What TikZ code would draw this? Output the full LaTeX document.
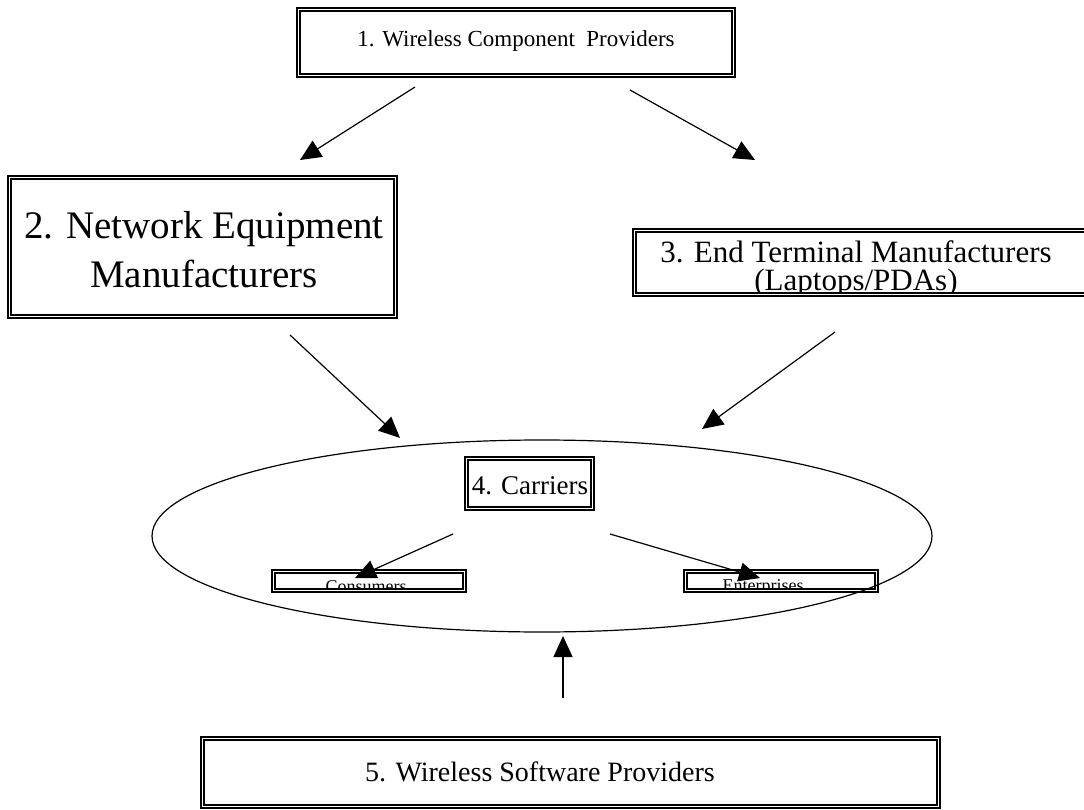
\documentclass[tikz,border=0pt]{standalone}
\usepackage{fontspec}
\setmainfont{Liberation Serif}
\usetikzlibrary{arrows.meta,calc,shapes.geometric}

\tikzset{
  frame/.style={draw, line width=2pt, inner sep=0pt},
  innerframe/.style={line width=1.2pt},
  link/.style={line width=1.2pt, -{Triangle[length=21pt,width=19pt]}},
  label/.style={inner sep=0pt, align=center},
}

% draws the thin inner rule of a double-ruled box
\newcommand\innerrule[1]{%
  \draw[innerframe] ($(#1.north west)+(4,4)$) rectangle ($(#1.south east)+(-4,-4)$);}

\begin{document}
\begin{tikzpicture}[x=1pt,y=-1pt]
\useasboundingbox (0,0) rectangle (1084,810);

% boxes
\node[frame, minimum width=438pt, minimum height=69pt] (wcp) at (516,42.5) {};
\node[frame, minimum width=389pt, minimum height=142pt] (nem) at (202.5,247) {};
\node[frame, minimum width=455pt, minimum height=67pt] (etm) at (860.5,262.5) {};
\node[draw, line width=1.2pt, ellipse, inner sep=0pt, minimum width=780pt, minimum height=192pt] (car) at (542,536) {};
\node[frame, minimum width=129pt, minimum height=53pt] (c4) at (529.5,483.5) {};
\node[frame, minimum width=194pt, minimum height=22pt] (con) at (369,581) {};
\node[frame, minimum width=194pt, minimum height=22pt] (ent) at (781,581) {};
\node[frame, minimum width=739pt, minimum height=71pt] (wsp) at (570.5,772.5) {};
\foreach \n in {wcp,nem,etm,c4,con,ent,wsp} {\innerrule{\n}}

% texts
\node[label, font=\fontsize{23}{27}\selectfont] (t1) at (516,41) {1. Wireless Component\ \ Providers};
\node[label, font=\fontsize{39}{49}\selectfont] (t2) at (204,250) {2. Network Equipment\\Manufacturers};
\begin{scope}
  \clip ($(etm.north west)+(4,4)$) rectangle ($(etm.south east)+(-4,-4)$);
  \node[label, font=\fontsize{31}{28}\selectfont, anchor=north] (t3) at (856,240) {3. End Terminal Manufacturers\\(Laptops/PDAs)};
\end{scope}
\node[label, font=\fontsize{27}{30}\selectfont] (t4) at (530,486) {4. Carriers};
\begin{scope}
  \clip ($(con.north west)+(4,4)$) rectangle ($(con.south east)+(-4,-4)$);
  \node[label, font=\fontsize{18}{20}\selectfont] (t6) at (366,587) {Consumers};
\end{scope}
\begin{scope}
  \clip ($(ent.north west)+(4,4)$) rectangle ($(ent.south east)+(-4,-4)$);
  \node[label, font=\fontsize{18}{20}\selectfont] (t7) at (763,587) {Enterprises};
\end{scope}
\node[label, font=\fontsize{28}{32}\selectfont] (t5) at (540,772) {5. Wireless Software Providers};

% connector end points
\coordinate (a1s) at (415,87);  \coordinate (a1e) at (300,160);
\coordinate (a2s) at (630,90);  \coordinate (a2e) at (755,160);
\coordinate (a3s) at (290,335); \coordinate (a3e) at (400,438);
\coordinate (a4s) at (835,332); \coordinate (a4e) at (702,429);
\coordinate (a5s) at (453,534); \coordinate (a5e) at (355,578);
\coordinate (a6s) at (610,534); \coordinate (a6e) at (760,578);
\coordinate (a7s) at (563,698); \coordinate (a7e) at (563,636);

\draw[link] (a1s) -- (a1e);
\draw[link] (a2s) -- (a2e);
\draw[link] (a3s) -- (a3e);
\draw[link] (a4s) -- (a4e);
\draw[link] (a5s) -- (a5e);
\draw[link] (a6s) -- (a6e);
\draw[link] (a7s) -- (a7e);
\end{tikzpicture}
\end{document}
